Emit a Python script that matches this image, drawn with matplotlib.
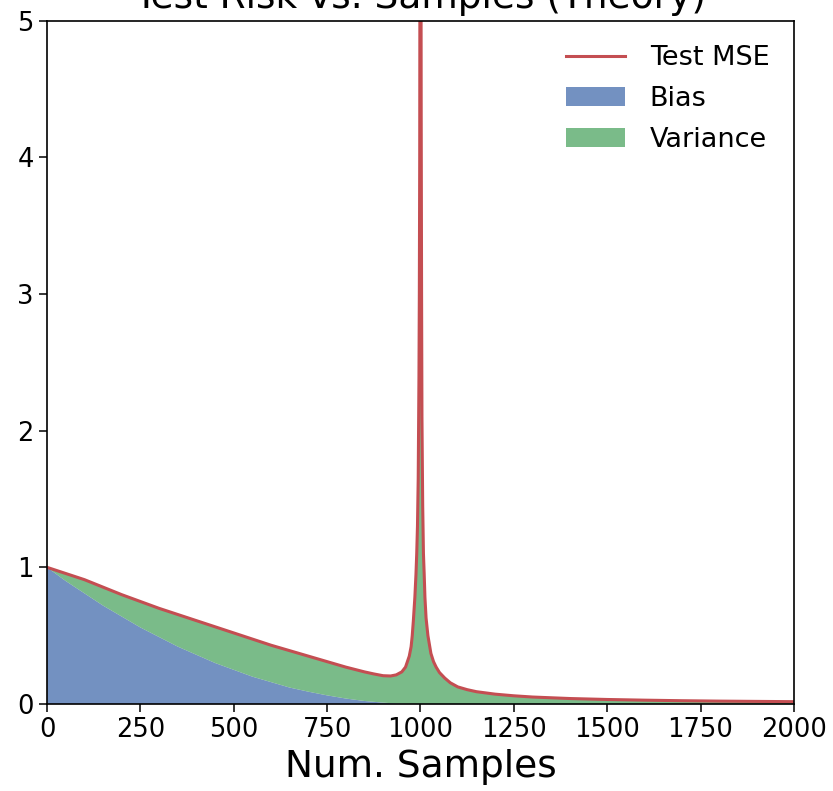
import matplotlib
matplotlib.use("Agg")
import matplotlib.pyplot as plt
import numpy as np

# values
num_samples = [0, 50, 100, 150, 200, 250, 300, 350, 400, 450, 500, 550, 600,
               650, 700, 750, 800, 850, 875, 900, 920, 935, 950, 960, 970,
               975, 978, 981, 985, 988, 990, 992, 994, 996, 997, 998, 999,
               1000, 1001, 1002, 1003, 1004, 1006, 1008, 1010, 1012, 1015,
               1020, 1028, 1035, 1042, 1051, 1065, 1080, 1100, 1125, 1150,
               1200, 1250, 1300, 1400, 1500, 1600, 1700, 1800, 1900, 2000]
test_mse = [1.00, 0.955, 0.91, 0.855, 0.80, 0.75, 0.70, 0.655, 0.61, 0.565,
            0.52, 0.475, 0.43, 0.39, 0.35, 0.31, 0.27, 0.235, 0.22, 0.207,
            0.205, 0.213, 0.235, 0.27, 0.35, 0.42, 0.50, 0.61, 0.78, 0.95,
            1.1, 1.3, 1.65, 2.4, 3.0, 4.0, 6.5, 9.0, 6.5, 4.3, 3.0, 2.1,
            1.45, 1.1, 0.95, 0.78, 0.63, 0.50, 0.37, 0.31, 0.27, 0.23, 0.19,
            0.155, 0.125, 0.105, 0.09, 0.072, 0.06, 0.051, 0.04, 0.033,
            0.028, 0.024, 0.021, 0.019, 0.017]
bias = [1.00, 0.90, 0.81, 0.72, 0.64, 0.56, 0.49, 0.42, 0.36, 0.30, 0.25,
        0.20, 0.16, 0.12, 0.09, 0.063, 0.04, 0.022, 0.016, 0.01, 0.006,
        0.004, 0.0025, 0.0016, 0.0009, 0.0006, 0.0005, 0.0004, 0.0002,
        0.0001, 0.0001, 0, 0, 0, 0, 0, 0, 0, 0, 0, 0, 0, 0, 0, 0, 0, 0, 0,
        0, 0, 0, 0, 0, 0, 0, 0, 0, 0, 0, 0, 0, 0, 0, 0, 0, 0, 0]

variance = np.array(test_mse) - np.array(bias)

blue = "#4C72B0"
green = "#55A868"
red = "#C44E52"

plt.rcParams["font.family"] = ["DejaVu Sans"]

fig = plt.figure(figsize=(8.33, 7.91), dpi=100)
ax = fig.add_axes([0.0565, 0.110, 0.8965, 0.8637])

polys = ax.stackplot(num_samples, bias, variance, colors=[blue, green],
                     alpha=0.78, labels=["Bias", "Variance"], linewidth=0)
line, = ax.plot(num_samples, test_mse, color=red, lw=2.2, label="Test MSE")

ax.set_xlim(0, 2000)
ax.set_ylim(0, 5)
ax.set_xticks([0, 250, 500, 750, 1000, 1250, 1500, 1750, 2000])
ax.set_yticks([0, 1, 2, 3, 4, 5])
ax.tick_params(labelsize=18.5, length=6, width=1.1)
for s in ax.spines.values():
    s.set_linewidth(1.2)

ax.set_xlabel("Num. Samples", fontsize=27, labelpad=4)
ax.set_title("Test Risk vs. Samples (Theory)", fontsize=27, pad=9)

ax.legend(handles=[line] + list(polys), loc="upper right", fontsize=19.5,
          frameon=False, labelspacing=0.55, handlelength=2.2,
          handletextpad=0.9, borderaxespad=0.5)

fig.savefig("out.png", dpi=100)
